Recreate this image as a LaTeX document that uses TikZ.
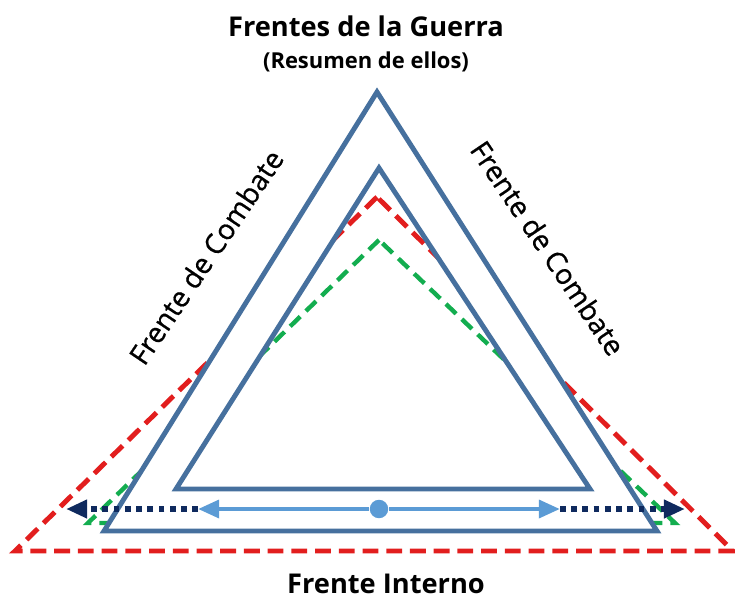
\documentclass[tikz,border=0pt]{standalone}
\usepackage{fontspec}
\setmainfont{Open Sans}
\newfontfamily\ladofont[FakeBold=0.7]{Open Sans}
\usetikzlibrary{arrows.meta}
\definecolor{marco}{HTML}{46709E}
\definecolor{rojo}{HTML}{E21E1E}
\definecolor{verde}{HTML}{13AD4F}
\definecolor{marino}{HTML}{0F2A5E}
\definecolor{celeste}{HTML}{5B9BD5}
\begin{document}
\begin{tikzpicture}[x=0.02cm, y=-0.02cm,
    marco/.style={draw=marco, line width=2.8pt},
    rayas/.style={line width=2.8pt, dash pattern=on 9pt off 4.5pt},
    rotulo/.style={font=\fontsize{15.5}{18}\selectfont\bfseries},
    lado/.style={font=\fontsize{16}{18}\ladofont}]
  \useasboundingbox (0,0) rectangle (735,603);

  % vertices
  \coordinate (o1) at (377,92);  \coordinate (o2) at (104,531); \coordinate (o3) at (657,531);
  \coordinate (i1) at (379,168); \coordinate (i2) at (176,489); \coordinate (i3) at (590,489);
  \coordinate (r1) at (377,197); \coordinate (r2) at (15,551);  \coordinate (r3) at (733,551);
  \coordinate (v1) at (379,240); \coordinate (v2) at (88,523);  \coordinate (v3) at (675,523);

  \draw[rayas, rojo] (r1) -- (r2) -- (r3) -- cycle;
  \draw[rayas, verde, line width=2.5pt, dash pattern=on 8pt off 4.5pt] (v1) -- (v2) -- (v3) -- cycle;

  \fill[white, even odd rule] (o1) -- (o2) -- (o3) -- cycle (i1) -- (i2) -- (i3) -- cycle;
  \draw[marco] (o1) -- (o2) -- (o3) -- cycle;
  \draw[marco] (i1) -- (i2) -- (i3) -- cycle;

  \node[circle, fill=celeste, inner sep=0pt, minimum size=10.5pt] (c) at (379,509) {};
  \coordinate (lb) at (198,509); \coordinate (rb) at (560,509);
  \coordinate (la) at (66,509);  \coordinate (ra) at (685,509);

  \draw[-{Triangle[length=12pt, width=10pt]}, marino, line width=3.2pt,
        dash pattern=on 3.2pt off 3.2pt] (lb) -- (la);
  \draw[-{Triangle[length=12pt, width=10pt]}, marino, line width=3.2pt,
        dash pattern=on 3.2pt off 3.2pt] (rb) -- (ra);
  \draw[-{Triangle[length=12pt, width=10pt]}, celeste, line width=2.6pt] (c) -- (lb);
  \draw[-{Triangle[length=12pt, width=10pt]}, celeste, line width=2.6pt] (c) -- (rb);

  \node[rotulo] (titulo) at (366,26) {Frentes de la Guerra};
  \node[font=\fontsize{12.5}{14}\selectfont\bfseries] (resumen) at (366,62) {(Resumen de ellos)};
  \node[lado, rotate=56] (izq) at (206,257) {Frente de Combate};
  \node[lado, rotate=-56] (der) at (548,248) {Frente de Combate};
  \node[rotulo] (interno) at (386,584) {Frente Interno};
\end{tikzpicture}
\end{document}
